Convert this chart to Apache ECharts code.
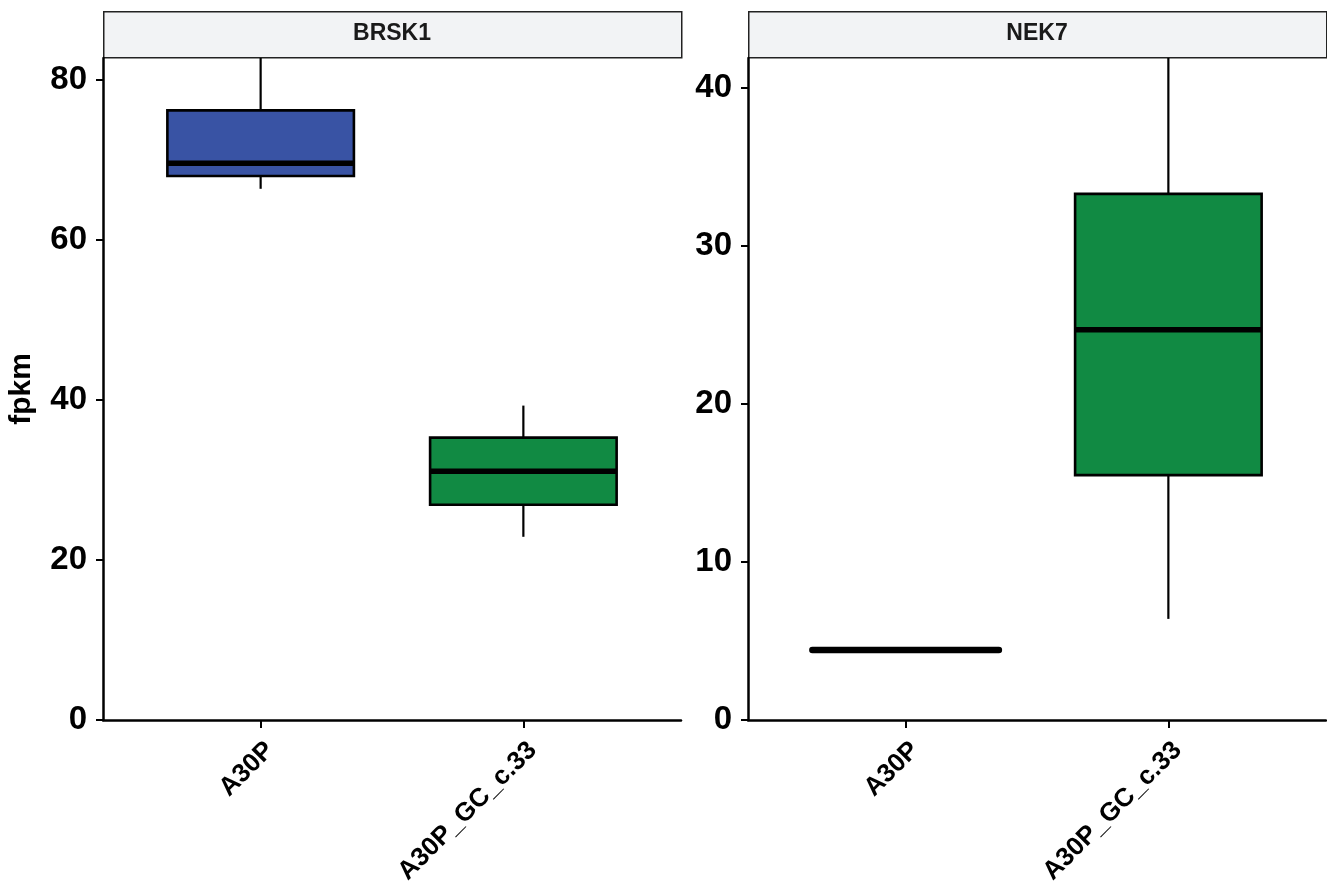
<!DOCTYPE html>
<html lang="en">
<head>
    <meta charset="UTF-8">
    <title>fpkm boxplot</title>
    <style>
        html, body { margin: 0; padding: 0; background: #fff; }
        #main { width: 1327px; height: 889px; }
    </style>
</head>
<body>
<div id="main"></div>
<script src="https://cdn.jsdelivr.net/npm/echarts@6/dist/echarts.min.js"></script>
<script type="text/javascript">
    // data: [lower whisker, q1, median, q3, upper whisker]
    var genes = ['BRSK1', 'NEK7'];
    var groups = ['A30P', 'A30P_GC_c.33'];
    var groupColors = ['#3953A4', '#118A43'];
    var brsk1Stats = [
        [66.4, 68.0, 69.6, 76.2, 83.0],
        [22.9, 26.9, 31.1, 35.3, 39.3]
    ];
    var nek7Stats = [
        [4.43, 4.43, 4.43, 4.43, 4.43],
        [6.4, 15.5, 24.7, 33.3, 42.0]
    ];
    var brsk1Ticks = [0, 20, 40, 60, 80];
    var nek7Ticks = [0, 10, 20, 30, 40];
    var yMax = [82.75, 41.9];

    var FONT = '"Liberation Sans", Arial, sans-serif';
    var boxWidth = 0.71;

    var myChart = echarts.init(document.getElementById('main'));

    function makeData(stats) {
        return stats.map(function (s, i) {
            return [i + 1].concat(s).concat([i]);
        });
    }

    function renderBox(params, api) {
        var x = api.value(0);
        var lo = api.coord([x, api.value(1)]);
        var q1 = api.coord([x, api.value(2)]);
        var med = api.coord([x, api.value(3)]);
        var q3 = api.coord([x, api.value(4)]);
        var hi = api.coord([x, api.value(5)]);
        var half = api.size([boxWidth, 0])[0] / 2;
        var color = groupColors[api.value(6)];
        var flat = q1[1] - q3[1] < 1;
        return {
            type: 'group',
            children: [
                {type: 'line', shape: {x1: hi[0], y1: hi[1], x2: q3[0], y2: q3[1]},
                    style: {stroke: '#000', lineWidth: 2.2}},
                {type: 'line', shape: {x1: lo[0], y1: lo[1], x2: q1[0], y2: q1[1]},
                    style: {stroke: '#000', lineWidth: 2.2}},
                {type: 'rect', shape: {x: q3[0] - half, y: q3[1], width: half * 2, height: q1[1] - q3[1]},
                    style: {fill: color, stroke: '#000', lineWidth: 2.6}},
                {type: 'line', shape: {x1: med[0] - half, y1: med[1], x2: med[0] + half, y2: med[1]},
                    style: {stroke: '#000', lineWidth: flat ? 6.5 : 5.5, lineCap: flat ? 'round' : 'butt'}}
            ]
        };
    }

    function xAxisFor(idx) {
        return {
            type: 'value', gridIndex: idx, min: 0.4, max: 2.6,
            splitLine: {show: false},
            axisLine: {show: true, onZero: false, lineStyle: {color: '#000', width: 2.5}},
            axisTick: {show: true, length: 8, customValues: [1, 2], lineStyle: {color: '#000', width: 2}},
            axisLabel: {
                customValues: [1, 2], rotate: 45, margin: 17, verticalAlign: 'top',
                fontFamily: FONT, fontWeight: 'bold', fontSize: 26, color: '#000',
                formatter: function (v) { return groups[Math.round(v) - 1]; }
            }
        };
    }

    function yAxisFor(idx, ticks) {
        var ax = {
            type: 'value', gridIndex: idx, min: 0, max: yMax[idx],
            splitLine: {show: false},
            axisLine: {show: true, lineStyle: {color: '#000', width: 2.5}},
            axisTick: {show: true, length: 7, customValues: ticks, lineStyle: {color: '#000', width: 2}},
            axisLabel: {
                customValues: ticks, margin: 16,
                fontFamily: FONT, fontWeight: 'bold', fontSize: 33, color: '#000'
            }
        };
        if (idx === 0) {
            ax.name = 'fpkm';
            ax.nameLocation = 'middle';
            ax.nameRotate = 90;
            ax.nameGap = 66;
            ax.nameTextStyle = {fontFamily: FONT, fontWeight: 'bold', fontSize: 30, color: '#000'};
        }
        return ax;
    }

    var panels = [
        {left: 103, width: 578},
        {left: 748, width: 578}
    ];

    var graphics = [];
    panels.forEach(function (p, i) {
        graphics.push({
            type: 'rect', left: p.left, top: 11,
            shape: {width: p.width, height: 46},
            style: {fill: '#F2F3F5', stroke: '#222', lineWidth: 1.5}
        });
        graphics.push({
            type: 'text', x: p.left + p.width / 2, y: 34,
            style: {text: genes[i], fill: '#1a1a1a', font: 'bold 23px ' + FONT,
                textAlign: 'center', textVerticalAlign: 'middle'}
        });
    });

    var option = {
        animation: false,
        grid: [
            {left: 103, width: 578, top: 58, bottom: 169},
            {left: 748, width: 578, top: 58, bottom: 169}
        ],
        xAxis: [xAxisFor(0), xAxisFor(1)],
        yAxis: [yAxisFor(0, brsk1Ticks), yAxisFor(1, nek7Ticks)],
        graphic: graphics,
        series: [
            {type: 'custom', name: genes[0], xAxisIndex: 0, yAxisIndex: 0, clip: true,
                renderItem: renderBox, data: makeData(brsk1Stats)},
            {type: 'custom', name: genes[1], xAxisIndex: 1, yAxisIndex: 1, clip: true,
                renderItem: renderBox, data: makeData(nek7Stats)}
        ]
    };

    myChart.setOption(option);
</script>
</body>
</html>
